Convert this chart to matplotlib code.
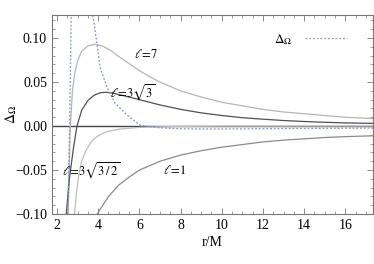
import matplotlib.pyplot as plt
from matplotlib.ticker import MultipleLocator

plt.rcParams['font.family'] = 'Liberation Serif'
plt.rcParams['mathtext.fontset'] = 'stix'

# l = 7
r_l7 = [2.55, 2.60, 2.65, 2.75, 2.87, 3.0, 3.2, 3.5, 3.85, 4.2, 4.6, 5.0, 5.5, 6.0,
        6.5, 7.0, 8.0, 9.0, 10.0, 11.0, 12.0, 13.0, 14.0, 15.0, 16.0, 17.4]
v_l7 = [-0.10, -0.04, 0.0, 0.04, 0.061, 0.074, 0.085, 0.091, 0.093, 0.091, 0.086, 0.079,
        0.071, 0.063, 0.056, 0.050, 0.040, 0.033, 0.027, 0.023, 0.019, 0.016, 0.014,
        0.012, 0.010, 0.0085]

# l = 3 sqrt(3)
r_l33 = [2.45, 2.6, 2.8, 2.97, 3.2, 3.5, 3.8, 4.1, 4.4, 4.8, 5.5, 6.0, 7.0, 8.0, 9.0,
         10.0, 11.0, 12.0, 13.0, 14.0, 15.0, 16.0, 17.4]
v_l33 = [-0.10, -0.06, -0.025, 0.0, 0.018, 0.029, 0.035, 0.0378, 0.0385, 0.037, 0.033,
         0.030, 0.024, 0.019, 0.015, 0.012, 0.0095, 0.0078, 0.0063, 0.0052, 0.0043,
         0.0036, 0.003]

# l = 3 sqrt(3/2)
r_l32 = [2.85, 2.95, 3.05, 3.2, 3.4, 3.6, 3.8, 4.0, 4.4, 5.0, 6.0, 7.0, 8.0, 10.0, 17.4]
v_l32 = [-0.10, -0.075, -0.057, -0.040, -0.028, -0.020, -0.0145, -0.011, -0.0065,
         -0.0035, -0.0015, -0.0008, -0.0004, -0.0001, 0.0]

# l = 1
r_l1 = [3.95, 4.5, 5.0, 5.5, 6.0, 7.0, 8.0, 9.0, 10.0, 11.0, 12.0, 13.0, 14.0, 15.0,
        16.0, 17.4]
v_l1 = [-0.10, -0.08, -0.067, -0.058, -0.050, -0.040, -0.033, -0.028, -0.024, -0.021,
        -0.018, -0.016, -0.0145, -0.013, -0.012, -0.011]

# Delta_Omega, two branches
r_dw_a = [2.53, 2.58, 2.62, 2.65, 2.69]
v_dw_a = [-0.10, -0.04, 0.01, 0.06, 0.13]
r_dw_b = [3.72, 3.75, 3.94, 4.09, 4.43, 4.82, 5.4, 6.03, 7.0, 8.0, 9.0, 10.0, 12.0,
          14.0, 17.4]
v_dw_b = [0.13, 0.124, 0.094, 0.067, 0.044, 0.026, 0.0125, 0.001, -0.002, -0.003,
          -0.0033, -0.0033, -0.003, -0.0027, -0.0023]

yticks = [-0.10, -0.05, 0.0, 0.05, 0.10]
ytick_labels = ['\u22120.10', '\u22120.05', '0.00', '0.05', '0.10']

fig = plt.figure(figsize=(3.74, 2.64), dpi=100)
ax = fig.add_axes([0.139, 0.189, 0.858, 0.754])

ax.axhline(0, color='#444444', lw=1.0)
ax.plot(r_l7, v_l7, color='#b5b5b5', lw=0.9)
ax.plot(r_l33, v_l33, color='#505050', lw=0.9)
ax.plot(r_l32, v_l32, color='#bdbdbd', lw=0.9)
ax.plot(r_l1, v_l1, color='#8a8a8a', lw=0.9)
ax.plot(r_dw_a, v_dw_a, color='#7f93cf', lw=0.9, ls=(0, (1.5, 1.5)))
ax.plot(r_dw_b, v_dw_b, color='#7f93cf', lw=0.9, ls=(0, (1.5, 1.5)))

ax.set_xlim(1.757, 17.34)
ax.set_ylim(-0.10, 0.1261)

ax.xaxis.set_major_locator(MultipleLocator(2))
ax.xaxis.set_minor_locator(MultipleLocator(0.5))
ax.yaxis.set_minor_locator(MultipleLocator(0.01))
ax.set_yticks(yticks)
ax.set_yticklabels(ytick_labels)
ax.tick_params(which='both', direction='in', top=True, right=True,
               colors='#777777', labelcolor='black', labelsize=10)
ax.tick_params(which='major', length=4, width=0.6)
ax.tick_params(which='minor', length=2, width=0.5)
for s in ax.spines.values():
    s.set_color('#777777')
    s.set_linewidth(0.8)

ax.set_xlabel('r/M', fontsize=10, labelpad=3)
ax.set_ylabel(r'$\Delta_\Omega$', fontsize=10)
ax.yaxis.set_label_coords(-0.102, 0.5)

ax.text(6.3, 0.081, r'$\ell\!=\!7$', fontsize=9, ha='center', va='center')
ax.text(5.7, 0.038, r'$\ell\!=\!3\sqrt{3}$', fontsize=9, ha='center', va='center')
ax.text(3.65, -0.051, r'$\ell\!=\!3\sqrt{3\,/\,2}$', fontsize=9, ha='center', va='center')
ax.text(7.7, -0.051, r'$\ell\!=\!1$', fontsize=9, ha='center', va='center')

ax.text(12.97, 0.098, r'$\Delta_\Omega$', fontsize=9.5, ha='center', va='center')
ax.plot([14.04, 16.08], [0.1, 0.1], color='#999999', lw=0.9, ls=(0, (1.5, 1.5)))

fig.savefig('out.png', dpi=100)
